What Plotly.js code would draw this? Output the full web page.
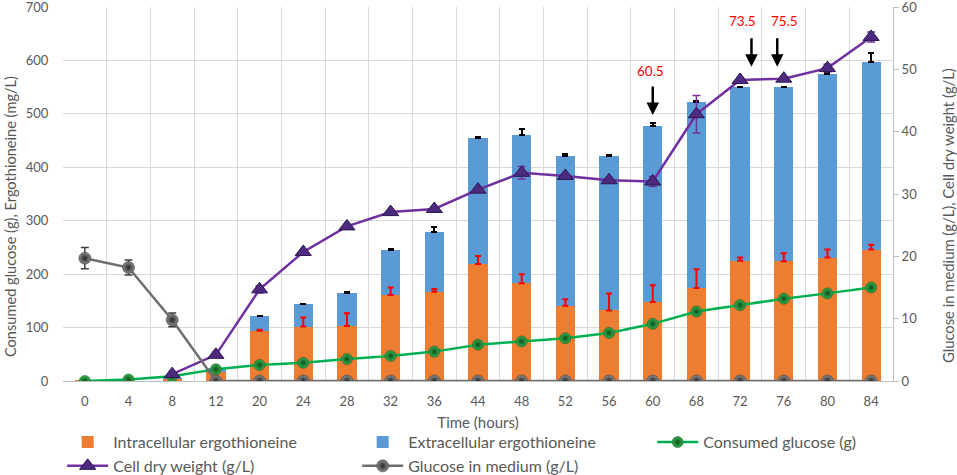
<!DOCTYPE html>
<html>
<head>
<meta charset="utf-8">
<script src="https://cdn.plot.ly/plotly-3.0.1.min.js"></script>
<style>
  html, body { margin: 0; padding: 0; background: #fff; }
  #chart { width: 957px; height: 475px; }
</style>
</head>
<body>
<div id="chart"></div>
<script>
// sampling times (categories on the x axis)
var times = ['0', '4', '8', '12', '20', '24', '28', '32', '36', '44', '48', '52', '56', '60', '68', '72', '76', '80', '84'];

// ergothioneine, mg/L (stacked bars)
var intra = [1, 0, 4, 17, 94, 102, 103, 161, 167, 219, 183, 141, 132, 148, 174, 225, 224, 231, 246];
var intraErr = [0, 0, 0, 0, 2, 17, 24, 14, 5, 15, 17, 12, 32, 31, 35, 6, 15, 15, 9];
var extra = [0, 0, 2, 7, 27, 42, 62, 85, 112, 236, 277, 281, 290, 329, 348, 326, 327, 344, 352];
var extraErr = [0, 0, 0, 0, 1, 1, 1, 1, 9, 1, 11, 2, 1, 5, 2, 0, 0, 2, 16];

// consumed glucose, g (left axis)
var consumed = [0, 3, 9, 22, 30, 34, 41, 47, 55, 68, 74, 80, 90, 107, 130, 142, 154, 164, 175];

// cell dry weight, g/L (right axis)
var cdw = [null, null, 1.1, 4.2, 14.7, 20.7, 24.8, 27.1, 27.6, 30.7, 33.4, 32.9, 32.2, 32.0, 42.8, 48.3, 48.5, 50.2, 55.2];
var cdwErr = [0, 0, 0.3, 0.4, 0.6, 0.3, 0.3, 0.3, 0.3, 0.3, 1.0, 0.3, 0.3, 0.8, 3.0, 0.3, 0.3, 0.6, 0.8];

// glucose in medium, g/L (right axis)
var glucose = [19.7, 18.2, 9.8, 0, 0, 0, 0, 0, 0, 0, 0, 0, 0, 0, 0, 0, 0, 0, 0];
var glucoseErr = [1.7, 1.2, 1.1, 0, 0, 0, 0, 0, 0, 0, 0, 0, 0, 0, 0, 0, 0, 0, 0];

// feeding points: label text and its place, arrow place (category index / left-axis value)
var feedLabels = ['60.5', '73.5', '75.5'];
var feedLabelX = [12.96, 15.06, 16.02];
var feedLabelY = [580, 674, 674];
var feedArrowX = [13, 15.26, 15.85];
var feedArrowTip = [498, 588, 588];

var FONT = 'Lato, "Open Sans", sans-serif';
var TXT = '#595959';

function zeros(a) { return a.map(function () { return 0; }); }

var traces = [
    {
        type: 'bar', name: 'Intracellular ergothioneine',
        x: times, y: intra,
        marker: { color: '#ED7D31' }
    },
    {
        type: 'bar', name: 'Extracellular ergothioneine',
        x: times, y: extra,
        marker: { color: '#5B9BD5' },
        error_y: { type: 'data', symmetric: false, array: extraErr, arrayminus: zeros(extra),
                   color: '#000000', thickness: 2, width: 3 }
    },
    {
        // red error bars of the intracellular part, drawn above the blue segment
        type: 'scatter', mode: 'markers', showlegend: false, hoverinfo: 'skip',
        x: times, y: intra,
        marker: { size: 1, opacity: 0 },
        error_y: { type: 'data', symmetric: false, array: intraErr, arrayminus: zeros(intra),
                   color: '#FF0000', thickness: 2, width: 3 }
    },
    {
        type: 'scatter', mode: 'lines+markers', name: 'Consumed glucose (g)',
        x: times, y: consumed,
        line: { color: '#00B050', width: 2.5 },
        marker: { size: 11, color: '#36b04c', gradient: { type: 'radial', color: '#0a4f1d' },
                  line: { color: '#0b4a1c', width: 0.5 } }
    },
    {
        type: 'scatter', mode: 'lines+markers', name: 'Cell dry weight (g/L)',
        x: times, y: cdw, yaxis: 'y2',
        line: { color: '#7030A0', width: 2.5 },
        marker: { symbol: 'triangle-up', size: 14, color: '#4B2A7F', line: { color: '#2E1650', width: 1 } },
        error_y: { type: 'data', array: cdwErr, color: '#7030A0', thickness: 1.5, width: 4 }
    },
    {
        type: 'scatter', mode: 'lines+markers', name: 'Glucose in medium (g/L)',
        x: times, y: glucose, yaxis: 'y2',
        line: { color: '#6E6E6E', width: 2.5 },
        marker: { size: 12, color: '#8c8c8c', gradient: { type: 'radial', color: '#262626' },
                  line: { color: '#2b2b2b', width: 0.5 } },
        error_y: { type: 'data', array: glucoseErr, color: '#404040', thickness: 1.5, width: 4 }
    }
];

var annotations = [];
for (var i = 0; i < feedLabels.length; i++) {
    annotations.push({
        x: feedLabelX[i], y: feedLabelY[i], xref: 'x', yref: 'y',
        text: feedLabels[i], showarrow: false,
        font: { family: FONT, size: 13.5, color: '#FF0000' }
    });
    annotations.push({
        x: feedArrowX[i], y: feedArrowTip[i], xref: 'x', yref: 'y',
        text: '', showarrow: true, arrowhead: 2, arrowsize: 1, arrowwidth: 2.5,
        arrowcolor: '#000000', ax: 0, ay: -30, standoff: 0
    });
}

// axis titles, placed like the reference (a little below the middle of the plot)
annotations.push({
    xref: 'paper', yref: 'paper', x: -0.0639, y: 0.441, xanchor: 'center', yanchor: 'middle',
    text: 'Consumed glucose (g), Ergothioneine (mg/L)', textangle: -90, showarrow: false,
    font: { family: FONT, size: 14.6, color: TXT }
});
annotations.push({
    xref: 'paper', yref: 'paper', x: 1.0663, y: 0.441, xanchor: 'center', yanchor: 'middle',
    text: 'Glucose in medium (g/L), Cell dry weight (g/L)', textangle: -90, showarrow: false,
    font: { family: FONT, size: 14.8, color: TXT }
});

var layout = {
    width: 957, height: 475,
    margin: { l: 63, r: 64, t: 7, b: 94, autoexpand: false },
    paper_bgcolor: '#ffffff', plot_bgcolor: '#ffffff',
    font: { family: FONT, size: 13, color: TXT },
    barmode: 'stack', bargap: 0.56,
    showlegend: true,
    legend: {
        orientation: 'h', x: -0.001, y: -0.118, xanchor: 'left', yanchor: 'top',
        entrywidth: 239, entrywidthmode: 'pixels', traceorder: 'normal',
        font: { family: FONT, size: 16, color: TXT }, itemwidth: 41
    },
    xaxis: {
        type: 'category', range: [-0.5, 18.5], tickson: 'boundaries', ticks: '',
        showgrid: true, gridcolor: '#D9D9D9', gridwidth: 1,
        showline: true, linecolor: '#BFBFBF', linewidth: 1,
        ticklabelstandoff: 8,
        tickfont: { family: FONT, size: 13, color: TXT },
        title: { text: 'Time (hours)', font: { family: FONT, size: 15, color: TXT }, standoff: 9 }
    },
    yaxis: {
        range: [0, 700], dtick: 100, showgrid: true, gridcolor: '#D9D9D9', gridwidth: 1,
        zeroline: false, showline: false, ticklabeloverflow: 'allow',
        ticks: 'outside', ticklen: 11, tickcolor: 'rgba(0,0,0,0)',
        tickfont: { family: FONT, size: 13, color: TXT }
    },
    yaxis2: {
        overlaying: 'y', side: 'right', range: [0, 60], dtick: 10,
        showgrid: false, zeroline: false, ticklabeloverflow: 'allow',
        showline: true, linecolor: '#BFBFBF', linewidth: 1,
        ticks: 'outside', ticklen: 5, tickcolor: '#BFBFBF',
        tickfont: { family: FONT, size: 13, color: TXT }
    },
    annotations: annotations
};

Plotly.newPlot('chart', traces, layout, { displayModeBar: false, staticPlot: true });
</script>
</body>
</html>
